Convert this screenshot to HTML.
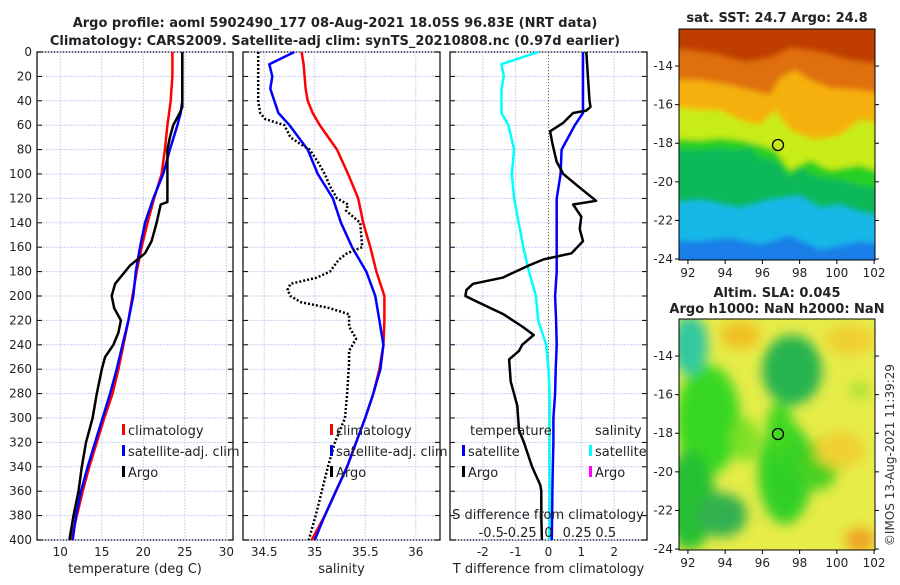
<!DOCTYPE html>
<html><head><meta charset="utf-8"><style>
body{margin:0;background:#fff;}
svg text{font-family:"DejaVu Sans","Liberation Sans",sans-serif;fill:#222;}
.t{font-weight:bold;font-size:13px;}
.tk{font-size:12px;fill:#333;}
</style></head><body>
<svg id="fig" width="900" height="580" viewBox="0 0 900 580" xmlns="http://www.w3.org/2000/svg">
<defs>
<filter id="bl" x="-20%" y="-20%" width="140%" height="140%"><feGaussianBlur stdDeviation="3"/></filter>
<filter id="bl2" x="-20%" y="-20%" width="140%" height="140%"><feGaussianBlur stdDeviation="6"/></filter>
<clipPath id="c1"><rect x="679" y="29" width="196" height="231"/></clipPath>
<clipPath id="c2"><rect x="679" y="319" width="196" height="231"/></clipPath>
</defs>
<text class="t" x="335" y="27" text-anchor="middle">Argo profile: aoml 5902490_177 08-Aug-2021 18.05S 96.83E (NRT data)</text>
<text class="t" x="335" y="45" text-anchor="middle">Climatology: CARS2009. Satellite-adj clim: synTS_20210808.nc (0.97d earlier)</text>

<!-- SST map -->
<g clip-path="url(#c1)">
<rect x="679" y="29" width="196" height="231" fill="#1a7ee8"/>
<g filter="url(#bl)">
<path d="M660 20 H890 V245 L860 242 L820 250 L790 236 L760 245 L730 238 L700 242 L660 240Z" fill="#18b8e8"/>
<path d="M660 20 H890 V218 L860 212 L840 205 L820 208 L800 196 L770 200 L740 208 L700 200 L660 205Z" fill="#10b858"/>
<path d="M660 20 H890 V190 L860 185 L840 180 L815 176 L800 168 L790 178 L775 160 L760 158 L750 148 L735 150 L720 148 L700 150 L660 150Z" fill="#28d020"/>
<path d="M660 20 H890 V175 L860 165 L830 170 L810 160 L790 170 L775 150 L760 145 L740 140 L720 138 L700 140 L660 138Z" fill="#c8ec18"/>
<path d="M660 20 H890 V125 L860 120 L840 135 L815 140 L790 130 L775 110 L760 125 L740 120 L720 110 L700 110 L660 105Z" fill="#f5b010"/>
<path d="M660 20 H890 V95 L860 90 L830 88 L810 80 L795 70 L780 78 L770 95 L750 90 L730 85 L700 80 L660 80Z" fill="#e07008"/>
<path d="M670 20 H885 V65 L850 60 L820 52 L790 48 L770 58 L745 62 L720 55 L690 50 L670 50Z" fill="#c03c00"/>
</g>
</g>
<rect x="679" y="29" width="196" height="231" fill="none" stroke="#000" stroke-width="1"/>
<circle cx="778" cy="145" r="5.5" fill="none" stroke="#000" stroke-width="1.3"/>
<text class="t" x="777" y="22" text-anchor="middle">sat. SST: 24.7 Argo: 24.8</text>

<!-- SLA map -->
<g clip-path="url(#c2)">
<rect x="679" y="319" width="196" height="231" fill="#e6ec48"/>
<g filter="url(#bl2)">
<ellipse cx="708" cy="420" rx="32" ry="55" fill="#38d820"/>
<ellipse cx="690" cy="500" rx="25" ry="50" fill="#28c030"/>
<ellipse cx="722" cy="515" rx="25" ry="22" fill="#30b050"/>
<ellipse cx="792" cy="370" rx="30" ry="35" fill="#28b450"/>
<ellipse cx="785" cy="472" rx="27" ry="52" fill="#30d028"/>
<ellipse cx="780" cy="430" rx="14" ry="28" fill="#40d820"/>
<ellipse cx="690" cy="345" rx="18" ry="30" fill="#30c8a0"/>
<ellipse cx="818" cy="465" rx="20" ry="25" fill="#48d020"/>
<ellipse cx="860" cy="390" rx="10" ry="8" fill="#a8e030"/>
<ellipse cx="740" cy="335" rx="20" ry="14" fill="#f0c020"/>
<ellipse cx="860" cy="540" rx="15" ry="12" fill="#f0a020"/>
<ellipse cx="840" cy="450" rx="25" ry="18" fill="#f0d030"/>
<ellipse cx="850" cy="340" rx="25" ry="15" fill="#f0d030"/>
<ellipse cx="745" cy="440" rx="14" ry="22" fill="#7ee028"/>
</g>
</g>
<rect x="679" y="319" width="196" height="231" fill="none" stroke="#000" stroke-width="1"/>
<circle cx="778" cy="434" r="5.5" fill="none" stroke="#000" stroke-width="1.3"/>
<text class="t" x="777" y="297" text-anchor="middle">Altim. SLA: 0.045</text>
<text class="t" x="777" y="313" text-anchor="middle">Argo h1000: NaN h2000: NaN</text>
<text class="tk" transform="translate(894,455) rotate(-90)" text-anchor="middle">©IMOS 13-Aug-2021 11:39:29</text>
<g id="chart"></g>
</svg>
<script>
const depths=[0,10,20,30,40,50,60,80,100,120,140,160,180,200,220,240,260,280,300,320,340,360,380,400];
const tempClim=[23.5,23.5,23.5,23.4,23.3,23.1,22.9,22.6,22.2,21.3,20.5,19.8,19.2,18.7,18.2,17.6,17.0,16.3,15.3,14.4,13.5,12.7,12.0,11.3];
const tempSat=[24.7,24.7,24.7,24.7,24.7,24.5,24.1,23.2,22.4,21.2,20.2,19.6,19.1,18.8,18.2,17.5,16.8,16.0,15.1,14.2,13.3,12.5,11.9,11.5];
const argoDepths=[0,45,50,60,70,80,100,123,125,140,155,165,175,185,190,200,210,220,230,240,250,260,280,300,320,340,360,380,400];
const argoTemp=[24.7,24.7,24.4,23.6,23.2,22.9,22.9,22.9,22.1,21.6,21.0,20.2,18.4,17.2,16.6,16.2,16.5,17.3,17.0,16.4,15.4,15.0,14.4,13.9,13.1,12.6,12.2,11.6,11.1];
const salClim=[34.87,34.89,34.90,34.91,34.93,34.98,35.05,35.22,35.33,35.43,35.48,35.55,35.61,35.69,35.69,35.68,35.64,35.58,35.50,35.41,35.32,35.21,35.10,34.97];
const salSat=[34.80,34.55,34.58,34.56,34.60,34.64,34.75,34.93,35.03,35.18,35.26,35.37,35.51,35.60,35.64,35.68,35.65,35.58,35.50,35.41,35.32,35.21,35.10,35.00];
const argoSalDepths=[0,40,50,55,60,70,75,80,90,100,110,120,125,130,140,160,165,170,180,185,190,195,200,205,210,215,225,235,245,255,280,300,320,340,360,380,400];
const argoSal=[34.44,34.44,34.46,34.51,34.70,34.76,34.85,34.95,35.03,35.10,35.15,35.22,35.33,35.31,35.45,35.47,35.32,35.24,35.15,35.02,34.76,34.73,34.76,34.86,35.15,35.34,35.34,35.41,35.34,35.34,35.32,35.30,35.20,35.13,35.07,35.01,34.94];
const dTArgoDepths=[0,40,45,48,50,58,65,75,90,100,110,122,125,135,145,155,165,170,175,185,190,195,200,205,215,225,232,240,245,252,270,290,310,320,340,355,360,380,400];
const dTArgo=[1.15,1.25,1.28,1.15,0.75,0.45,0.05,0.12,0.25,0.45,0.9,1.45,0.75,1.0,0.95,1.05,0.7,-0.15,-0.6,-1.4,-2.3,-2.5,-2.53,-2.15,-1.37,-0.8,-0.45,-0.8,-0.9,-1.2,-1.15,-0.95,-0.9,-0.75,-0.5,-0.25,-0.22,-0.22,-0.2];
const dTSat=[1.05,1.05,1.05,1.05,1.05,1.05,0.8,0.4,0.37,0.25,0.25,0.25,0.25,0.2,0.23,0.25,0.22,0.2,0.15,0.15,0.13,0.12,0.11,0.1];
const dSSat=[-0.09,-0.41,-0.39,-0.41,-0.41,-0.41,-0.35,-0.30,-0.32,-0.30,-0.26,-0.22,-0.17,-0.11,-0.09,-0.02,0,0.01,0.01,0.01,0.01,0.01,0.01,0.01];
const depthTicks=[0,20,40,60,80,100,120,140,160,180,200,220,240,260,280,300,320,340,360,380,400];
const tempTicks=[10,15,20,25,30];
const salTicks=[34.5,35,35.5,36];
const dTTicks=[-2,-1,0,1,2];
const dSTicks=[-0.5,-0.25,0,0.25,0.5];
const dSTickLabels=["-0.5","-0.25","0","0.25","0.5"];

const NS="http://www.w3.org/2000/svg";
const g=document.getElementById('chart');
const top0=52,bot0=540;
const yD=d=>top0+d*(bot0-top0)/400;
function lin(d0,d1,r0,r1){return v=>r0+(v-d0)*(r1-r0)/(d1-d0);}
function mk(tag,attrs){const e=document.createElementNS(NS,tag);for(const k in attrs)e.setAttribute(k,attrs[k]);g.appendChild(e);return e;}
function txt(x,y,s,anchor,size){const e=mk('text',{x:x,y:y,'text-anchor':anchor||'middle','font-size':size||12});e.textContent=s;return e;}
function line(xs,ds,xf,color,w,dash){let d='';for(let i=0;i<xs.length;i++){d+=(i?'L':'M')+xf(xs[i]).toFixed(1)+' '+yD(ds[i]).toFixed(1);}const p=mk('path',{d:d,fill:'none',stroke:color,'stroke-width':w,'stroke-linejoin':'round'});if(dash)p.setAttribute('stroke-dasharray',dash);return p;}
function panel(x0,x1,xf,ticks,labels,xlab,nm,showY){
  const fr=mk('rect',{x:x0,y:top0,width:x1-x0,height:bot0-top0,fill:'none',stroke:'#000','stroke-width':1.2});
  
  
  depthTicks.forEach(d=>{
    const gl=mk('line',{x1:x0,x2:x1,y1:yD(d),y2:yD(d),stroke:'#c8cef0','stroke-width':1,'stroke-dasharray':'2,1'});
    
    
    mk('line',{x1:x0,x2:x0+5,y1:yD(d),y2:yD(d),stroke:'#000'});
    mk('line',{x1:x1-5,x2:x1,y1:yD(d),y2:yD(d),stroke:'#000'});
    if(showY){const t=txt(32,yD(d)+4,String(d),'end',12);
      
      }
  });
  ticks.forEach((v,i)=>{
    const gl=mk('line',{x1:xf(v),x2:xf(v),y1:top0,y2:bot0,stroke:'#d0d0ee','stroke-width':1,'stroke-dasharray':'2,1'});
    
    
    const t=txt(xf(v),556,labels[i],'middle',12);
    
    
  });
  const xt=txt((x0+x1)/2,573,xlab,'middle',13);
  
  
}
function legItem(x,y,color,label,nm){
  const r=mk('rect',{x:x,y:y-11,width:3,height:11,fill:color});
  
  
  const t=txt(x+6,y,label,'start',13);
  
  
}
const xT=lin(7.2,30.8,37,233);
panel(37,233,xT,tempTicks,tempTicks.map(String),'temperature (deg C)','temperature-panel',true);
let p;
p=line(tempClim,depths,xT,'#f00',2.5);


p=line(tempSat,depths,xT,'#00f',2.5);


p=line(argoTemp,argoDepths,xT,'#000',2.5);


legItem(122,435,'#f00','climatology','temp-legend-climatology');
legItem(122,456,'#00f','satellite-adj. clim','temp-legend-satellite');
legItem(122,477,'#000','Argo','temp-legend-argo');
const xS=lin(34.29,36.24,243,440);
panel(243,440,xS,salTicks,salTicks.map(String),'salinity','salinity-panel',false);
p=line(salClim,depths,xS,'#f00',2.5);


p=line(salSat,depths,xS,'#00f',2.5);


p=line(argoSal,argoSalDepths,xS,'#000',2.5,'2,2');


legItem(330,435,'#f00','climatology','sal-legend-climatology');
legItem(330,456,'#00f','satellite-adj. clim','sal-legend-satellite');
legItem(330,477,'#000','Argo','sal-legend-argo');
const xdT=lin(-3,3,450,647);
const xdS=lin(-0.86,0.86,450,647);
panel(450,647,xdT,dTTicks,dTTicks.map(String),'T difference from climatology','difference-panel',false);
p=mk('line',{x1:xdT(0),x2:xdT(0),y1:top0,y2:bot0,stroke:'#556b2f','stroke-width':1,'stroke-dasharray':'1,2'});


p=line(dSSat,depths,xdS,'#0ff',2.5);


p=line(dTSat,depths,xdT,'#00f',2.5);


p=line(dTArgo,dTArgoDepths,xdT,'#000',2.5);


let t=txt(470,435,'temperature','start',13);


t=txt(595,435,'salinity','start',13);


legItem(462,456,'#00f','satellite','diff-legend-temp-satellite');
legItem(462,477,'#000','Argo','diff-legend-temp-argo');
legItem(589,456,'#0ff','satellite','diff-legend-sal-satellite');
legItem(589,477,'#f0f','Argo','diff-legend-sal-argo');
t=txt(548,519,'S difference from climatology','middle',13);


dSTicks.forEach((v,i)=>{
  const e=txt(xdS(v),537,dSTickLabels[i],'middle',13);
  
  
});
function mapAxes(yTop,nm){
  const xm=lin(91.52,102.05,679,875);
  const ym=lin(-12.08,-24.05,yTop,yTop+231);
  [92,94,96,98,100,102].forEach(v=>{
    mk('line',{x1:xm(v),x2:xm(v),y1:yTop+231,y2:yTop+235,stroke:'#000'});
    const e=txt(xm(v),yTop+248,String(v),'middle',12);
    
    
  });
  [-14,-16,-18,-20,-22,-24].forEach(v=>{
    mk('line',{x1:675,x2:679,y1:ym(v),y2:ym(v),stroke:'#000'});
    mk('line',{x1:875,x2:879,y1:ym(v),y2:ym(v),stroke:'#000'});
    const e=txt(673,ym(v)+4,String(v),'end',12);
    
    
  });
}
mapAxes(29,'sst-map');
mapAxes(319,'sla-map');
</script>
</body></html>
